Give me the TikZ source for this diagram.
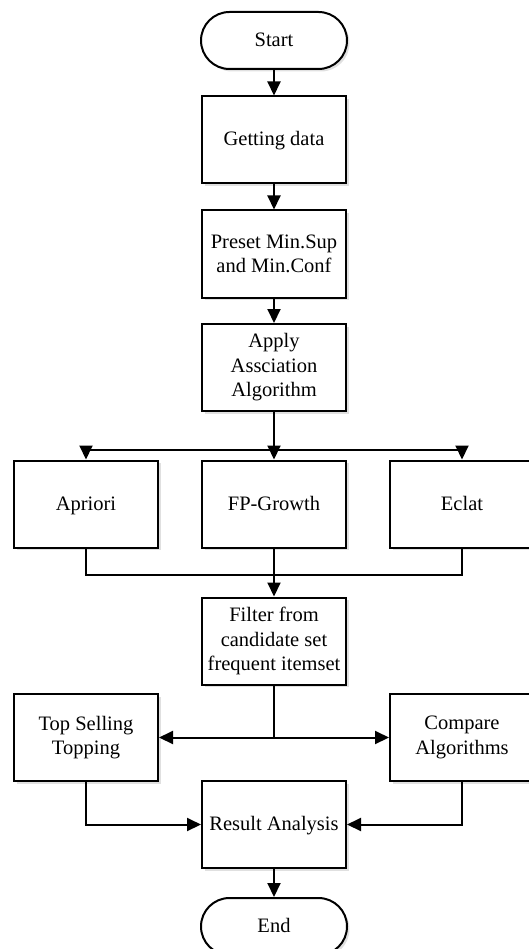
\documentclass[tikz,border=0pt]{standalone}
\usepackage{fontspec}
\setmainfont{Liberation Serif}
\usetikzlibrary{arrows.meta,shadows}
\begin{document}
\begin{tikzpicture}[x=1pt,y=-1pt,
  box/.style={draw, line width=2pt, minimum width=144pt, minimum height=87pt,
    align=center, inner sep=2pt, font=\fontsize{20.5}{24.5}\selectfont, fill=white,
    drop shadow={shadow xshift=2.5pt, shadow yshift=-2.5pt, fill=black!12, opacity=1}},
  one/.style={text height=16pt, text depth=4pt},
  term/.style={box, one, rounded corners=28.5pt, minimum height=57pt, minimum width=146pt},
  arr/.style={line width=2pt, -{Triangle[length=14pt,width=13pt]}},
  ln/.style={line width=2pt}]
\useasboundingbox (0,0) rectangle (528,949);
\node[term] (start) at (274,40.5) {Start};
\node[box, one] (get) at (274,140) {Getting data};
\node[box] (pre) at (274,254) {Preset Min.Sup\\and Min.Conf};
\node[box] (app) at (274,367.5) {Apply\\Assciation\\Algorithm};
\node[box, one] (apr) at (86,504) {Apriori};
\node[box, one] (fp) at (274,504) {FP-Growth};
\node[box, one] (ecl) at (462,504) {Eclat};
\node[box] (fil) at (274,641) {Filter from\\candidate set\\frequent itemset};
\node[box] (top) at (86,737.5) {Top Selling\\Topping};
\node[box] (cmp) at (462,737.5) {Compare\\Algorithms};
\node[box, one] (res) at (274,824.5) {Result Analysis};
\node[term] (end) at (274,926.5) {End};
\coordinate (split) at (274,450);
\coordinate (merge) at (274,575);
\coordinate (fork) at (274,737.5);
\draw[arr] (start) -- (get);
\draw[arr] (get) -- (pre);
\draw[arr] (pre) -- (app);
\draw[arr] (app) -- (fp);
\draw[arr] (split) -| (apr.north);
\draw[arr] (split) -| (ecl.north);
\draw[ln] (apr.south) |- (merge);
\draw[ln] (ecl.south) |- (merge);
\draw[arr] (fp) -- (fil);
\draw[ln] (fil) -- (fork);
\draw[arr] (fork) -- (top);
\draw[arr] (fork) -- (cmp);
\draw[arr] (top) |- (res);
\draw[arr] (cmp) |- (res);
\draw[arr] (res) -- (end);
\end{tikzpicture}
\end{document}
